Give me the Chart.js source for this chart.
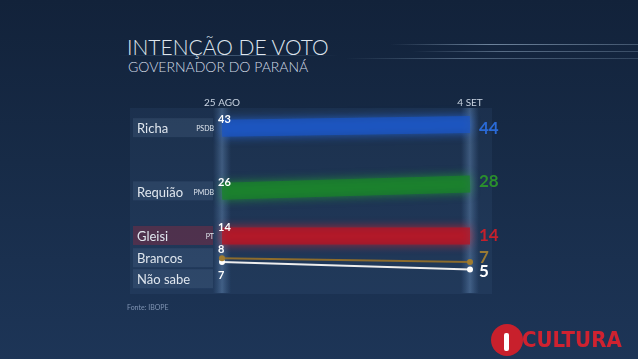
<!DOCTYPE html>
<html>
<head>
<meta charset="utf-8">
<script src="https://cdn.jsdelivr.net/npm/chart.js@4.4.0/dist/chart.umd.min.js"></script>
<style>
  html, body { margin:0; padding:0; }
  body { width:638px; height:359px; overflow:hidden; position:relative;
         background: linear-gradient(180deg, #12223a 0%, #172b47 45%, #1d3557 100%);
         font-family: Lato, "Open Sans", sans-serif; }
  #wrap { position:absolute; left:0; top:0; width:638px; height:359px; }
  .t1 { position:absolute; left:127px; top:34px; color:#dfe6ee; font-size:21px; font-weight:300; letter-spacing:0px; }
  .t2 { position:absolute; left:128px; top:58px; color:#d3dbe6; font-size:14px; font-weight:300; }
  .streak { position:absolute; height:1px; }
  .src { position:absolute; left:127px; top:303px; color:#7f93b2; font-size:7px; }
  .logo { position:absolute; left:491px; top:324px; width:32px; height:32px; border-radius:50%; background:#c8202c; }
  .logo span { position:absolute; left:13px; top:9px; width:5px; height:18px; background:#fff; border-radius:2px; }
  .brand { position:absolute; left:522px; top:327px; color:#cf2230; font-size:22px; font-weight:bold; font-family:"DejaVu Sans Condensed", "Liberation Sans Narrow", sans-serif; }
</style>
</head>
<body>
<div class="streak" style="left:118px;top:55px;width:220px;background:linear-gradient(90deg,rgba(150,180,210,0),rgba(150,180,210,0.35),rgba(150,180,210,0));"></div>
<div class="streak" style="left:390px;top:44px;width:248px;background:linear-gradient(90deg,rgba(170,195,220,0),rgba(170,195,220,0.6) 40%,rgba(170,195,220,0.3));"></div>
<div class="streak" style="left:412px;top:51px;width:226px;background:linear-gradient(90deg,rgba(170,195,220,0),rgba(170,195,220,0.45) 40%,rgba(170,195,220,0.25));"></div>
<div class="streak" style="left:345px;top:58px;width:293px;background:linear-gradient(90deg,rgba(170,195,220,0),rgba(170,195,220,0.4) 40%,rgba(170,195,220,0.2));"></div>
<div class="t1">INTENÇÃO DE VOTO</div>
<div class="t2">GOVERNADOR DO PARANÁ</div>
<div id="wrap"><canvas id="chart" width="638" height="359"></canvas></div>
<div class="src">Fonte: IBOPE</div>
<div class="logo"><span></span></div>
<div class="brand">CULTURA</div>
<script>
// DATA
let dates = ['25 AGO', '4 SET'];
let names = ['Richa', 'Requião', 'Gleisi', 'Brancos', 'Não sabe'];
let parties = ['PSDB', 'PMDB', 'PT', '', ''];
let richa = [43, 44];
let requiao = [26, 28];
let gleisi = [14, 14];
let brancos = [8, 7];
let naoSabe = [7, 5];

// STYLE PER SERIES
let bandColor = ['rgba(26,84,195,0.72)', 'rgba(25,130,40,0.72)', 'rgba(185,20,35,0.72)', '#8d6c2c', '#eeeeee'];
let glowColor = ['#2a6ee8', '#24a232', '#e0202e', 'rgba(0,0,0,0)', 'rgba(0,0,0,0)'];
let textColor = ['#2a6ad6', '#2b8f2d', '#c4202c', '#9a7a34', '#ffffff'];
let widths = [17, 17, 17, 2, 2];
let endShift = [4, -2, 0, -4, 2];

let allSeries = [richa, requiao, gleisi, brancos, naoSabe];

let datasets = allSeries.map((d, i) => ({
    label: names[i],
    data: d,
    borderColor: bandColor[i],
    borderWidth: widths[i],
    borderCapStyle: 'butt',
    pointRadius: i > 2 ? 3 : 0,
    pointBackgroundColor: i == 4 ? '#ffffff' : '#a07c30',
    pointBorderWidth: 0,
    tension: 0,
    clip: false
}));

// panel, columns and row labels
let decor = {
    id: 'decor',
    beforeDatasetsDraw(chart) {
        let ctx = chart.ctx;
        let x = chart.scales.x, y = chart.scales.y;
        ctx.save();
        ctx.fillStyle = 'rgba(90,130,180,0.10)';
        ctx.fillRect(130, 108, 362, 186);
        // row boxes
        let prev = -100;
        allSeries.forEach((d, i) => {
            let cy = Math.max(y.getPixelForValue(d[0]), prev + 21);
            prev = cy;
            ctx.fillStyle = i == 2 ? 'rgba(170,40,60,0.35)' : 'rgba(140,170,210,0.13)';
            ctx.fillRect(133, cy - 10, 80, 19);
            ctx.fillStyle = '#dfe6ee';
            ctx.font = '13px Lato, "Open Sans", sans-serif';
            ctx.textBaseline = 'middle';
            ctx.textAlign = 'left';
            ctx.fillText(names[i], 137, cy + 1);
            if (parties[i]) {
                ctx.font = '7px Lato, "Open Sans", sans-serif';
                ctx.textAlign = 'right';
                ctx.fillText(parties[i], 214, cy + 1);
            }
        });
        // glowing columns
        [0, 1].forEach(k => {
            let px = x.getPixelForValue(k);
            let g = ctx.createLinearGradient(px - 9, 0, px + 9, 0);
            g.addColorStop(0, 'rgba(120,170,230,0)');
            g.addColorStop(0.5, 'rgba(150,195,245,0.28)');
            g.addColorStop(1, 'rgba(120,170,230,0)');
            ctx.fillStyle = g;
            ctx.fillRect(px - 9, 108, 18, 185);
        });
        ctx.restore();
    },
    beforeDatasetDraw(chart, args) {
        let i = args.index;
        chart.ctx.save();
        chart.ctx.shadowColor = glowColor[i];
        chart.ctx.shadowBlur = i < 3 ? 10 : 0;
    },
    afterDatasetDraw(chart) {
        chart.ctx.restore();
    },
    afterDatasetsDraw(chart) {
        let ctx = chart.ctx;
        let x = chart.scales.x, y = chart.scales.y;
        ctx.save();
        allSeries.forEach((d, i) => {
            // start values
            let sy = y.getPixelForValue(d[0]);
            ctx.fillStyle = '#ffffff';
            ctx.font = 'bold 11px Lato, "Open Sans", sans-serif';
            ctx.textAlign = 'left';
            ctx.textBaseline = 'middle';
            let below = i == 4;
            ctx.fillText(d[0], x.getPixelForValue(0) - 4, below ? sy + 13 : sy - 9);
            // end values
            let ey = y.getPixelForValue(d[1]) + endShift[i];
            ctx.fillStyle = textColor[i];
            ctx.font = 'bold 17px Lato, "Open Sans", sans-serif';
            ctx.fillText(d[1], x.getPixelForValue(1) + 9, ey);
        });
        ctx.restore();
    }
};

let graph = new Chart(document.getElementById('chart').getContext('2d'), {
    type: 'line',
    data: { labels: dates, datasets: datasets },
    options: {
        responsive: false,
        animation: false,
        events: [],
        layout: { padding: { left: 222, right: 168, top: 93, bottom: 71 } },
        plugins: { legend: { display: false }, tooltip: { enabled: false } },
        scales: {
            x: {
                position: 'top',
                offset: false,
                grid: { display: false },
                border: { display: false },
                ticks: { color: '#c9d4e2', font: { size: 10, family: 'Lato' }, padding: 0, maxRotation: 0 },
                afterFit(scale) { scale.height = 24; }
            },
            y: { display: false, min: 0, max: 46 }
        }
    },
    plugins: [decor]
});
</script>
</body>
</html>
